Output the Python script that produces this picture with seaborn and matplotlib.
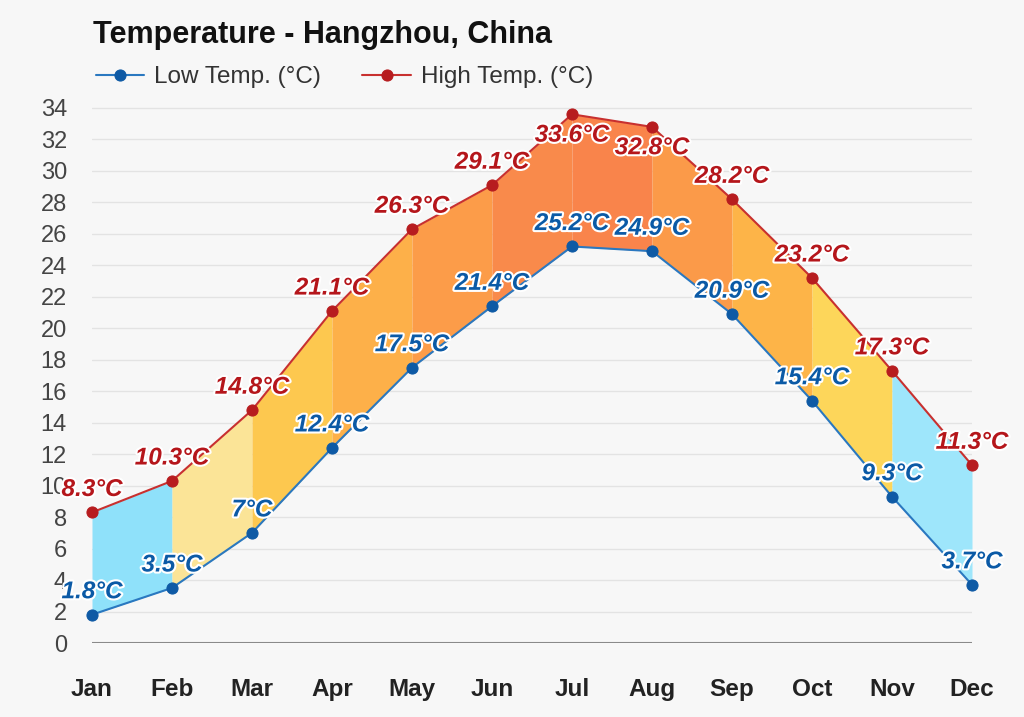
import matplotlib
matplotlib.use("Agg")
import matplotlib.pyplot as plt
import matplotlib.patheffects as pe
import seaborn as sns
import pandas as pd

months = ["Jan", "Feb", "Mar", "Apr", "May", "Jun", "Jul", "Aug", "Sep", "Oct", "Nov", "Dec"]
low_temp = [1.8, 3.5, 7.0, 12.4, 17.5, 21.4, 25.2, 24.9, 20.9, 15.4, 9.3, 3.7]
high_temp = [8.3, 10.3, 14.8, 21.1, 26.3, 29.1, 33.6, 32.8, 28.2, 23.2, 17.3, 11.3]
low_labels = ["1.8°C", "3.5°C", "7°C", "12.4°C", "17.5°C", "21.4°C", "25.2°C", "24.9°C", "20.9°C", "15.4°C", "9.3°C", "3.7°C"]
high_labels = ["8.3°C", "10.3°C", "14.8°C", "21.1°C", "26.3°C", "29.1°C", "33.6°C", "32.8°C", "28.2°C", "23.2°C", "17.3°C", "11.3°C"]
segment_colors = ["#8fe1fa", "#fbe497", "#fdc84f", "#fdb049", "#fc9c49", "#f98a4b",
                  "#f9844b", "#fb9a49", "#fdb448", "#fdd65a", "#9ee6fb"]
y_ticks = list(range(0, 35, 2))

BG = "#f7f7f7"
LOW_C = "#2a78c0"
LOW_M = "#0e5aa5"
HIGH_C = "#c8302f"
HIGH_M = "#b71c1f"
LOW_T = "#0b5aa6"
HIGH_T = "#b5161b"

sns.set_theme(style="white")
plt.rcParams["font.family"] = ["Liberation Sans", "DejaVu Sans"]

df = pd.DataFrame({"x": range(len(months)), "low": low_temp, "high": high_temp})

fig = plt.figure(figsize=(10.24, 7.17), dpi=100, facecolor=BG)
ax = fig.add_axes([92 / 1024, (717 - 643) / 717, (972 - 92) / 1024, (643 - 102) / 717])
ax.set_facecolor(BG)

ax.set_xlim(0, len(months) - 1)
ax.set_ylim(0, 34 * (643 - 102) / (643 - 108))

for yv in y_ticks[1:]:
    ax.axhline(yv, color="#e3e3e3", lw=1, zorder=0)
ax.axhline(0, color="#8a8a8a", lw=1.5, zorder=1)

for i in range(len(months) - 1):
    ax.fill_between([i, i + 1], [low_temp[i], low_temp[i + 1]], [high_temp[i], high_temp[i + 1]],
                    color=segment_colors[i], lw=0, zorder=2)

sns.lineplot(data=df, x="x", y="low", ax=ax, color=LOW_C, lw=1.5, marker="o", markersize=8,
             markerfacecolor=LOW_M, markeredgecolor=LOW_M, zorder=3, clip_on=False, label="Low Temp. (°C)")
sns.lineplot(data=df, x="x", y="high", ax=ax, color=HIGH_C, lw=1.5, marker="o", markersize=8,
             markerfacecolor=HIGH_M, markeredgecolor=HIGH_M, zorder=3, clip_on=False, label="High Temp. (°C)")

stroke = [pe.withStroke(linewidth=3, foreground="white")]
for i in range(len(months)):
    dy = -15 if high_temp[i] > 32 else 16.5
    ax.annotate(high_labels[i], (i, high_temp[i]), xytext=(0, dy), textcoords="offset points",
                ha="center", va="center", fontsize=17.5, fontweight="bold", fontstyle="italic",
                color=HIGH_T, path_effects=stroke, zorder=5, annotation_clip=False)
    ax.annotate(low_labels[i], (i, low_temp[i]), xytext=(0, 16.5), textcoords="offset points",
                ha="center", va="center", fontsize=17.5, fontweight="bold", fontstyle="italic",
                color=LOW_T, path_effects=stroke, zorder=5, annotation_clip=False)

ax.set_xticks(range(len(months)))
ax.set_xticklabels(months, fontsize=17.5, fontweight="bold", color="#222222")
ax.set_yticks(y_ticks)
ax.set_yticklabels([str(v) for v in y_ticks], fontsize=17, color="#444444")
ax.tick_params(axis="x", length=0, pad=25)
ax.tick_params(axis="y", length=0, pad=18)
ax.set_xlabel("")
ax.set_ylabel("")
for s in ax.spines.values():
    s.set_visible(False)

fig.text(93 / 1024, 1 - 35 / 717, "Temperature - Hangzhou, China", fontsize=22, fontweight="bold",
         color="#111111", ha="left", va="center")

handles, labels = ax.get_legend_handles_labels()
leg = fig.legend(handles, labels, loc="center left", bbox_to_anchor=(74 / 1024, 1 - 77 / 717),
                 ncol=2, frameon=False, fontsize=17.5, handlelength=2.0, columnspacing=1.7,
                 handletextpad=0.4, labelcolor="#333333")
if ax.get_legend():
    ax.get_legend().remove()

fig.savefig("out.png", dpi=100, facecolor=BG)
